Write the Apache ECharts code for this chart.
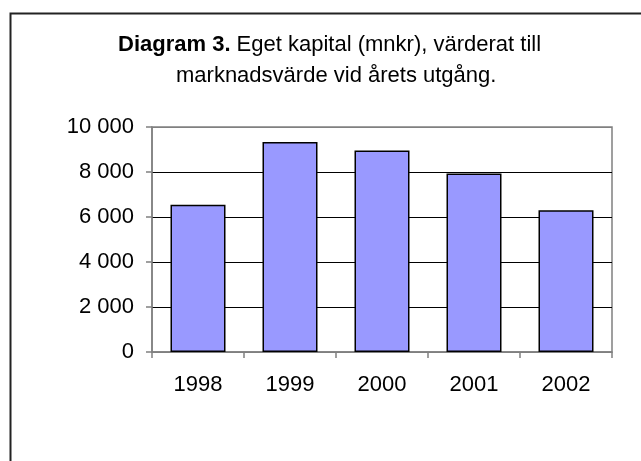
<!DOCTYPE html>
<html>
<head>
<meta charset="utf-8">
<script src="https://cdn.jsdelivr.net/npm/echarts@6/dist/echarts.min.js"></script>
<style>html,body{margin:0;padding:0;background:#fff}#c{width:641px;height:461px}</style>
</head>
<body>
<div id="c"></div>
<script>
const categories = ['1998', '1999', '2000', '2001', '2002'];
const values = [6550, 9330, 8960, 7930, 6300];
const yTicks = [0, 2000, 4000, 6000, 8000, 10000];
const titleBold = 'Diagram 3.';
const titleLine1 = ' Eget kapital (mnkr), värderat till';
const titleLine2 = 'marknadsvärde vid årets utgång.';

const FONT = '"Liberation Sans", Arial, sans-serif';
const FS = 22;
const chart = echarts.init(document.getElementById('c'), null, {renderer: 'canvas'});
function fmt(v) { return String(v).replace(/\B(?=(\d{3})+(?!\d))/g, ' '); }
chart.setOption({
  animation: false,
  backgroundColor: '#fff',
  graphic: [
    {type: 'rect', left: 8, top: 11, shape: {x: 0, y: 0, width: 700, height: 500},
     style: {fill: 'none', stroke: '#222', lineWidth: 2}, z: 100},
    {type: 'text', x: 118, y: 45,
     style: {text: '{b|' + titleBold + '}' + titleLine1, font: FS + 'px ' + FONT, fill: '#000', verticalAlign: 'middle',
       rich: {b: {fontWeight: 'bold', fontSize: FS, fontFamily: FONT, fill: '#000'}}}},
    {type: 'text', x: 176, y: 76,
     style: {text: titleLine2, font: FS + 'px ' + FONT, fill: '#000', verticalAlign: 'middle'}}
  ],
  grid: {left: 152, top: 127, width: 460, height: 225, show: true, borderColor: '#808080', borderWidth: 1.5, backgroundColor: 'transparent'},
  xAxis: {
    type: 'category', data: categories,
    axisLine: {lineStyle: {color: '#808080', width: 1.5}},
    axisTick: {show: true, alignWithLabel: false, length: 6, lineStyle: {color: '#808080', width: 1.5}},
    axisLabel: {fontSize: FS, fontFamily: FONT, color: '#000', margin: 22},
    splitLine: {show: false}
  },
  yAxis: {
    type: 'value', min: yTicks[0], max: yTicks[yTicks.length - 1], interval: 2000,
    axisLine: {show: true, lineStyle: {color: '#808080', width: 1.5}},
    axisTick: {show: true, length: 6, lineStyle: {color: '#808080', width: 1.5}},
    axisLabel: {fontSize: FS, fontFamily: FONT, color: '#000', margin: 18, formatter: fmt},
    splitLine: {show: true, lineStyle: {color: ['#808080', '#000', '#000', '#000', '#000', '#808080'], width: 1}}
  },
  series: [{
    type: 'bar', data: values, barWidth: 55,
    itemStyle: {color: '#9999FF', borderColor: '#000', borderWidth: 1.5}
  }]
});
</script>
</body>
</html>
